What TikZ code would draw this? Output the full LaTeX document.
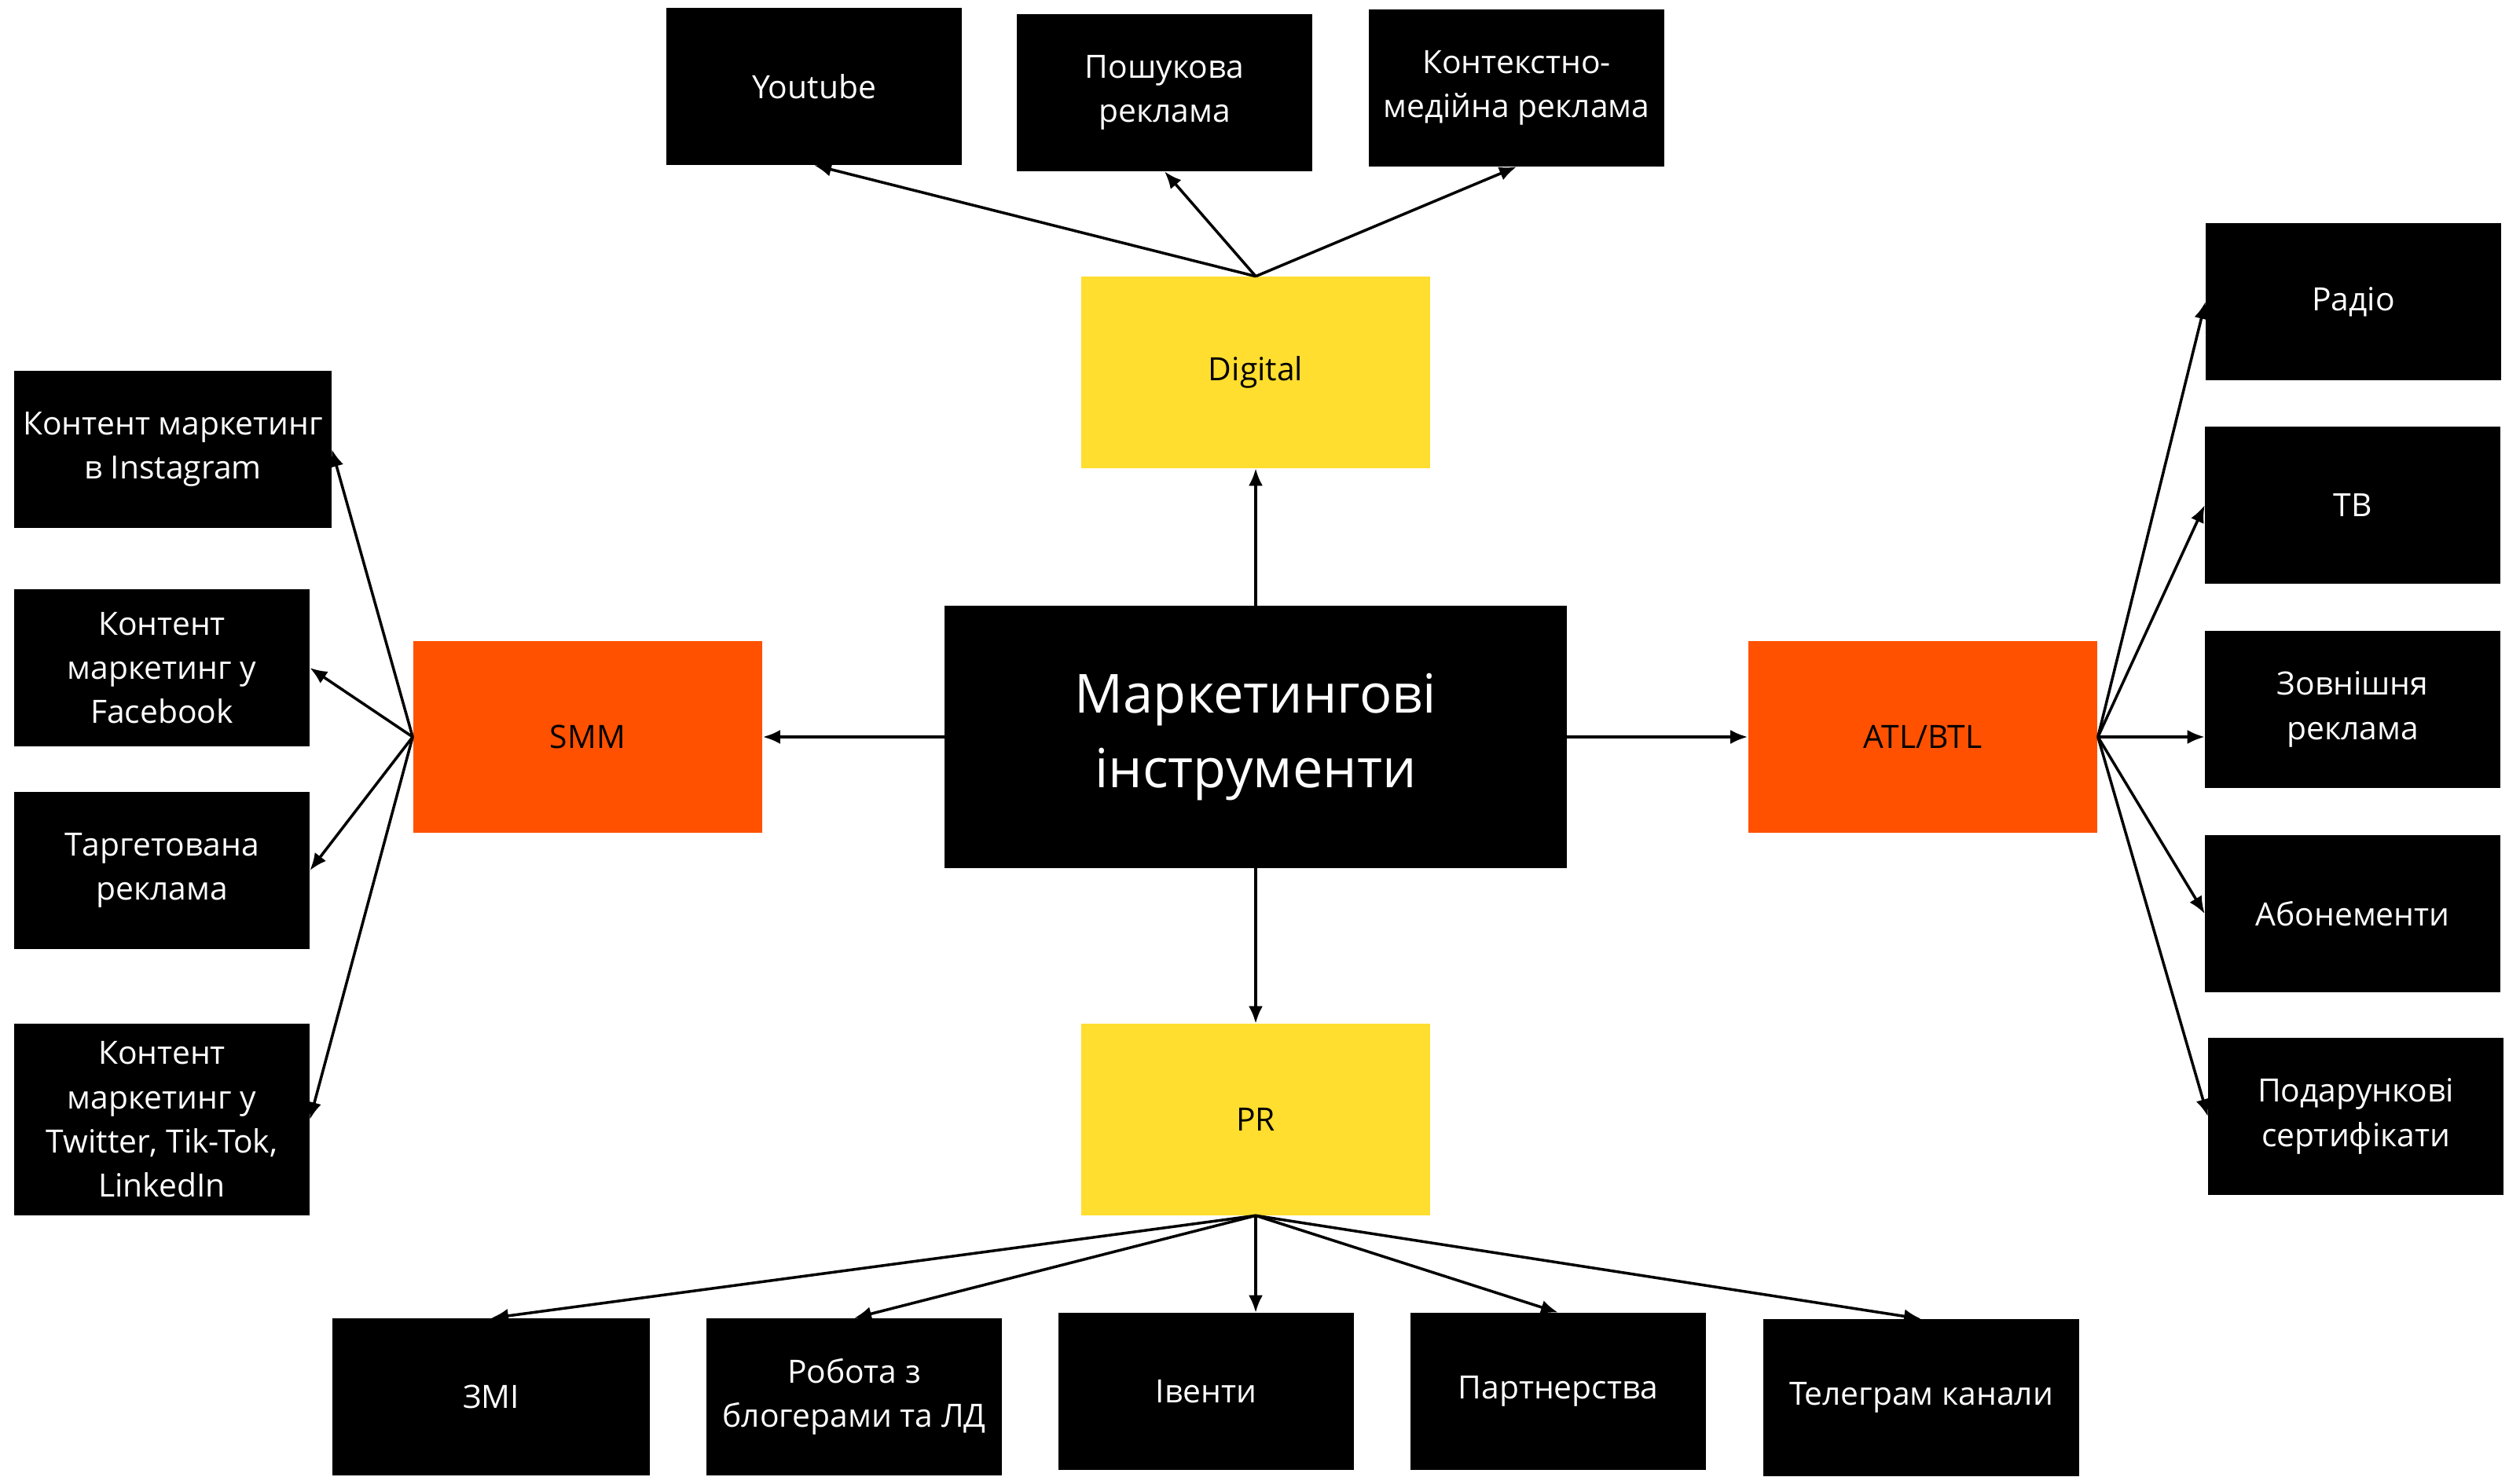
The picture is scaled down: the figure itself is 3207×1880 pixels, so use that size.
\documentclass[tikz,border=0pt]{standalone}
\usepackage{fontspec}
\setmainfont{Open Sans}
\usetikzlibrary{arrows.meta}
\definecolor{digyellow}{HTML}{FFDE2F}
\definecolor{smmorange}{HTML}{FF5100}
\begin{document}
\begin{tikzpicture}[x=0.01cm, y=-0.01cm,
    box/.style={fill=black, text=white, align=center, inner sep=0pt,
        minimum width=3.75cm, minimum height=1.99cm,
        font=\fontsize{11.6}{16}\selectfont},
    hub/.style={fill=#1, text=black, align=center, inner sep=0pt,
        minimum width=4.44cm, minimum height=2.43cm,
        font=\fontsize{11.6}{16}\selectfont},
    link/.style={line width=1pt, -{Latex[length=2.2mm, width=1.8mm]}}]
    \useasboundingbox (0,0) rectangle (3207,1880);

    % Centre
    \node[box, minimum width=7.91cm, minimum height=3.33cm,
        font=\fontsize{19.5}{27}\selectfont] (main) at (1598,938) {Маркетингові\\інструменти};

    % Four directions
    \node[hub=digyellow] (digital) at (1598,474) {Digital};
    \node[hub=smmorange] (smm) at (748,938) {SMM};
    \node[hub=smmorange] (atl) at (2447,938) {ATL/BTL};
    \node[hub=digyellow] (pr) at (1598,1425) {PR};

    % Digital
    \node[box] (youtube) at (1036,110) {Youtube};
    \node[box] (search) at (1482,118) {Пошукова\\реклама};
    \node[box] (context) at (1930,112) {Контекстно-\\медійна реклама};

    % SMM
    \node[box, minimum width=4.03cm] (insta) at (220,572) {Контент маркетинг\\в Instagram};
    \node[box] (facebook) at (206,850) {Контент\\маркетинг у\\Facebook};
    \node[box] (target) at (206,1108) {Таргетована\\реклама};
    \node[box, minimum height=2.43cm] (twitter) at (206,1425) {Контент\\маркетинг у\\Twitter, Tik-Tok,\\LinkedIn};

    % ATL/BTL
    \node[box] (radio) at (2995,384) {Радіо};
    \node[box] (tv) at (2994,643) {ТВ};
    \node[box] (outdoor) at (2994,903) {Зовнішня\\реклама};
    \node[box] (subs) at (2994,1163) {Абонементи};
    \node[box] (gift) at (2998,1421) {Подарункові\\сертифікати};

    % PR
    \node[box, minimum width=4.03cm] (media) at (625,1778) {ЗМІ};
    \node[box] (bloggers) at (1087,1778) {Робота з\\блогерами та ЛД};
    \node[box] (events) at (1535,1771) {Івенти};
    \node[box] (partners) at (1983,1771) {Партнерства};
    \node[box, minimum width=4.01cm] (telegram) at (2445,1779) {Телеграм канали};

    % Arrows from the centre
    \draw[link] (main.north) -- (digital.south);
    \draw[link] (main.west) -- (smm.east);
    \draw[link] (main.east) -- (atl.west);
    \draw[link] (main.south) -- (pr.north);

    \foreach \n in {youtube,search,context}
        \draw[link] (digital.north) -- (\n.south);
    \foreach \n in {insta,facebook,target,twitter}
        \draw[link] (smm.west) -- (\n.east);
    \foreach \n in {radio,tv,subs,gift}
        \draw[link] (atl.east) -- (\n.west);
    \draw[link] (atl.east) -- (atl.east -| outdoor.west);
    \foreach \n in {media,bloggers,partners,telegram}
        \draw[link] (pr.south) -- (\n.north);
    \draw[link] (pr.south) -- (pr.south |- events.north);
\end{tikzpicture}
\end{document}
